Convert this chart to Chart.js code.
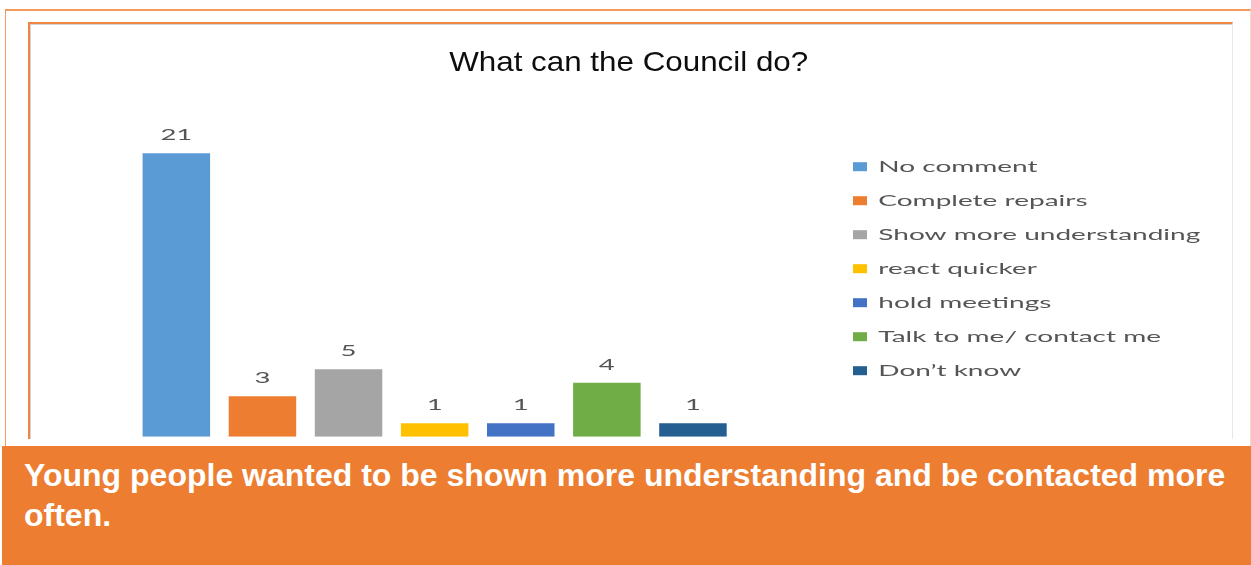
<!DOCTYPE html>
<html lang="en">
<head>
    <meta charset="UTF-8">
    <title>What can the Council do?</title>
    <style>
        body { margin: 0; background: #fff; }
        .page { position: relative; width: 1251px; height: 565px; overflow: hidden; }
        .outer_frame {
            position: absolute; left: 5px; top: 9px; width: 1244px; height: 437px;
            border-top: 2px solid #f39a5c; border-left: 1px solid #f39a5c; border-right: 1px solid #fbd9c3;
        }
        .inner_frame {
            position: absolute; left: 28px; top: 22px; width: 1202px; height: 415px;
            border-top: 2px solid #ee8646; border-left: 2px solid #ee8646; border-right: 1px solid #e8e8e8;
            box-shadow: inset 1px 1px 0 #d4d4d4;
        }
        .chart_container { position: absolute; left: 0; top: 0; }
        .banner {
            position: absolute; left: 2px; top: 446px; width: 1249px; height: 119px;
            background: #ed7d31;
        }
        .banner p {
            margin: 0; position: absolute; left: 22px; top: 9px;
            font: bold 32px "Liberation Sans", Arial, sans-serif; line-height: 40px;
            color: #fff; white-space: nowrap;
        }
    </style>
</head>
<body>
    <div class="page">
        <div class="outer_frame"></div>
        <div class="inner_frame"></div>
        <div class="chart_container">
            <canvas class="councilChart" width="1251" height="446"></canvas>
        </div>
        <div class="banner">
            <p>Young people wanted to be shown more understanding and be contacted more<br>often.</p>
        </div>
    </div>

<script src="https://cdn.jsdelivr.net/npm/chart.js"></script>
<script>
    const chartTitle = 'What can the Council do?';
    const categories = ['No comment', 'Complete repairs', 'Show more understanding', 'react quicker',
                        'hold meetings', 'Talk to me/ contact me', 'Don\u2019t know'];
    const counts = [21, 3, 5, 1, 1, 4, 1];
    const barColours = ['#5b9bd5', '#ed7d31', '#a5a5a5', '#ffc000', '#4472c4', '#70ad47', '#255e91'];

    // the text in this chart is drawn a bit wide, so it is squeezed out sideways
    function wideText(ctx, text, x, y, sx, align) {
        ctx.save();
        ctx.translate(x, y);
        ctx.scale(sx, 1);
        ctx.textAlign = align;
        ctx.textBaseline = 'alphabetic';
        ctx.fillText(text, 0, 0);
        ctx.restore();
    }

    const titlePlugin = {
        id: 'wideTitle',
        afterDraw(chart) {
            const ctx = chart.ctx;
            ctx.fillStyle = '#0d0d0d';
            ctx.font = '28px "Liberation Sans", Arial, sans-serif';
            wideText(ctx, chartTitle, 628.7, 70.7, 1.12, 'center');
        }
    };

    // value above every bar
    const valueLabels = {
        id: 'valueLabels',
        afterDatasetsDraw(chart) {
            const ctx = chart.ctx;
            const meta = chart.getDatasetMeta(0);
            ctx.fillStyle = '#555';
            ctx.font = '16px Lato, sans-serif';
            meta.data.forEach((bar, i) => {
                wideText(ctx, String(counts[i]), bar.x, bar.y - 13, 1.72, 'center');
            });
        }
    };

    // legend column on the right
    const sideLegend = {
        id: 'sideLegend',
        afterDraw(chart) {
            const ctx = chart.ctx;
            ctx.font = '16px Lato, sans-serif';
            categories.forEach((name, i) => {
                const y = 171.7 + i * 34;
                ctx.fillStyle = barColours[i];
                ctx.fillRect(853, y - 9.5, 14, 9);
                ctx.fillStyle = '#555';
                wideText(ctx, name, 878.3, y, 1.75, 'left');
            });
        }
    };

    const councilChart = new Chart(document.querySelector('.councilChart'), {
        type: 'bar',
        data: {
            labels: categories,
            datasets: [{
                data: counts,
                backgroundColor: barColours,
                borderWidth: 0,
                barPercentage: 0.784,
                categoryPercentage: 1
            }]
        },
        options: {
            responsive: false,
            animation: false,
            layout: { padding: { left: 133.3, right: 515, top: 99.3, bottom: 9.3 } },
            plugins: {
                legend: { display: false },
                title: { display: false },
                tooltip: { enabled: false }
            },
            scales: {
                x: { display: false },
                y: { display: false, min: 0, max: 25 }
            }
        },
        plugins: [titlePlugin, valueLabels, sideLegend]
    });
</script>
</body>
</html>
